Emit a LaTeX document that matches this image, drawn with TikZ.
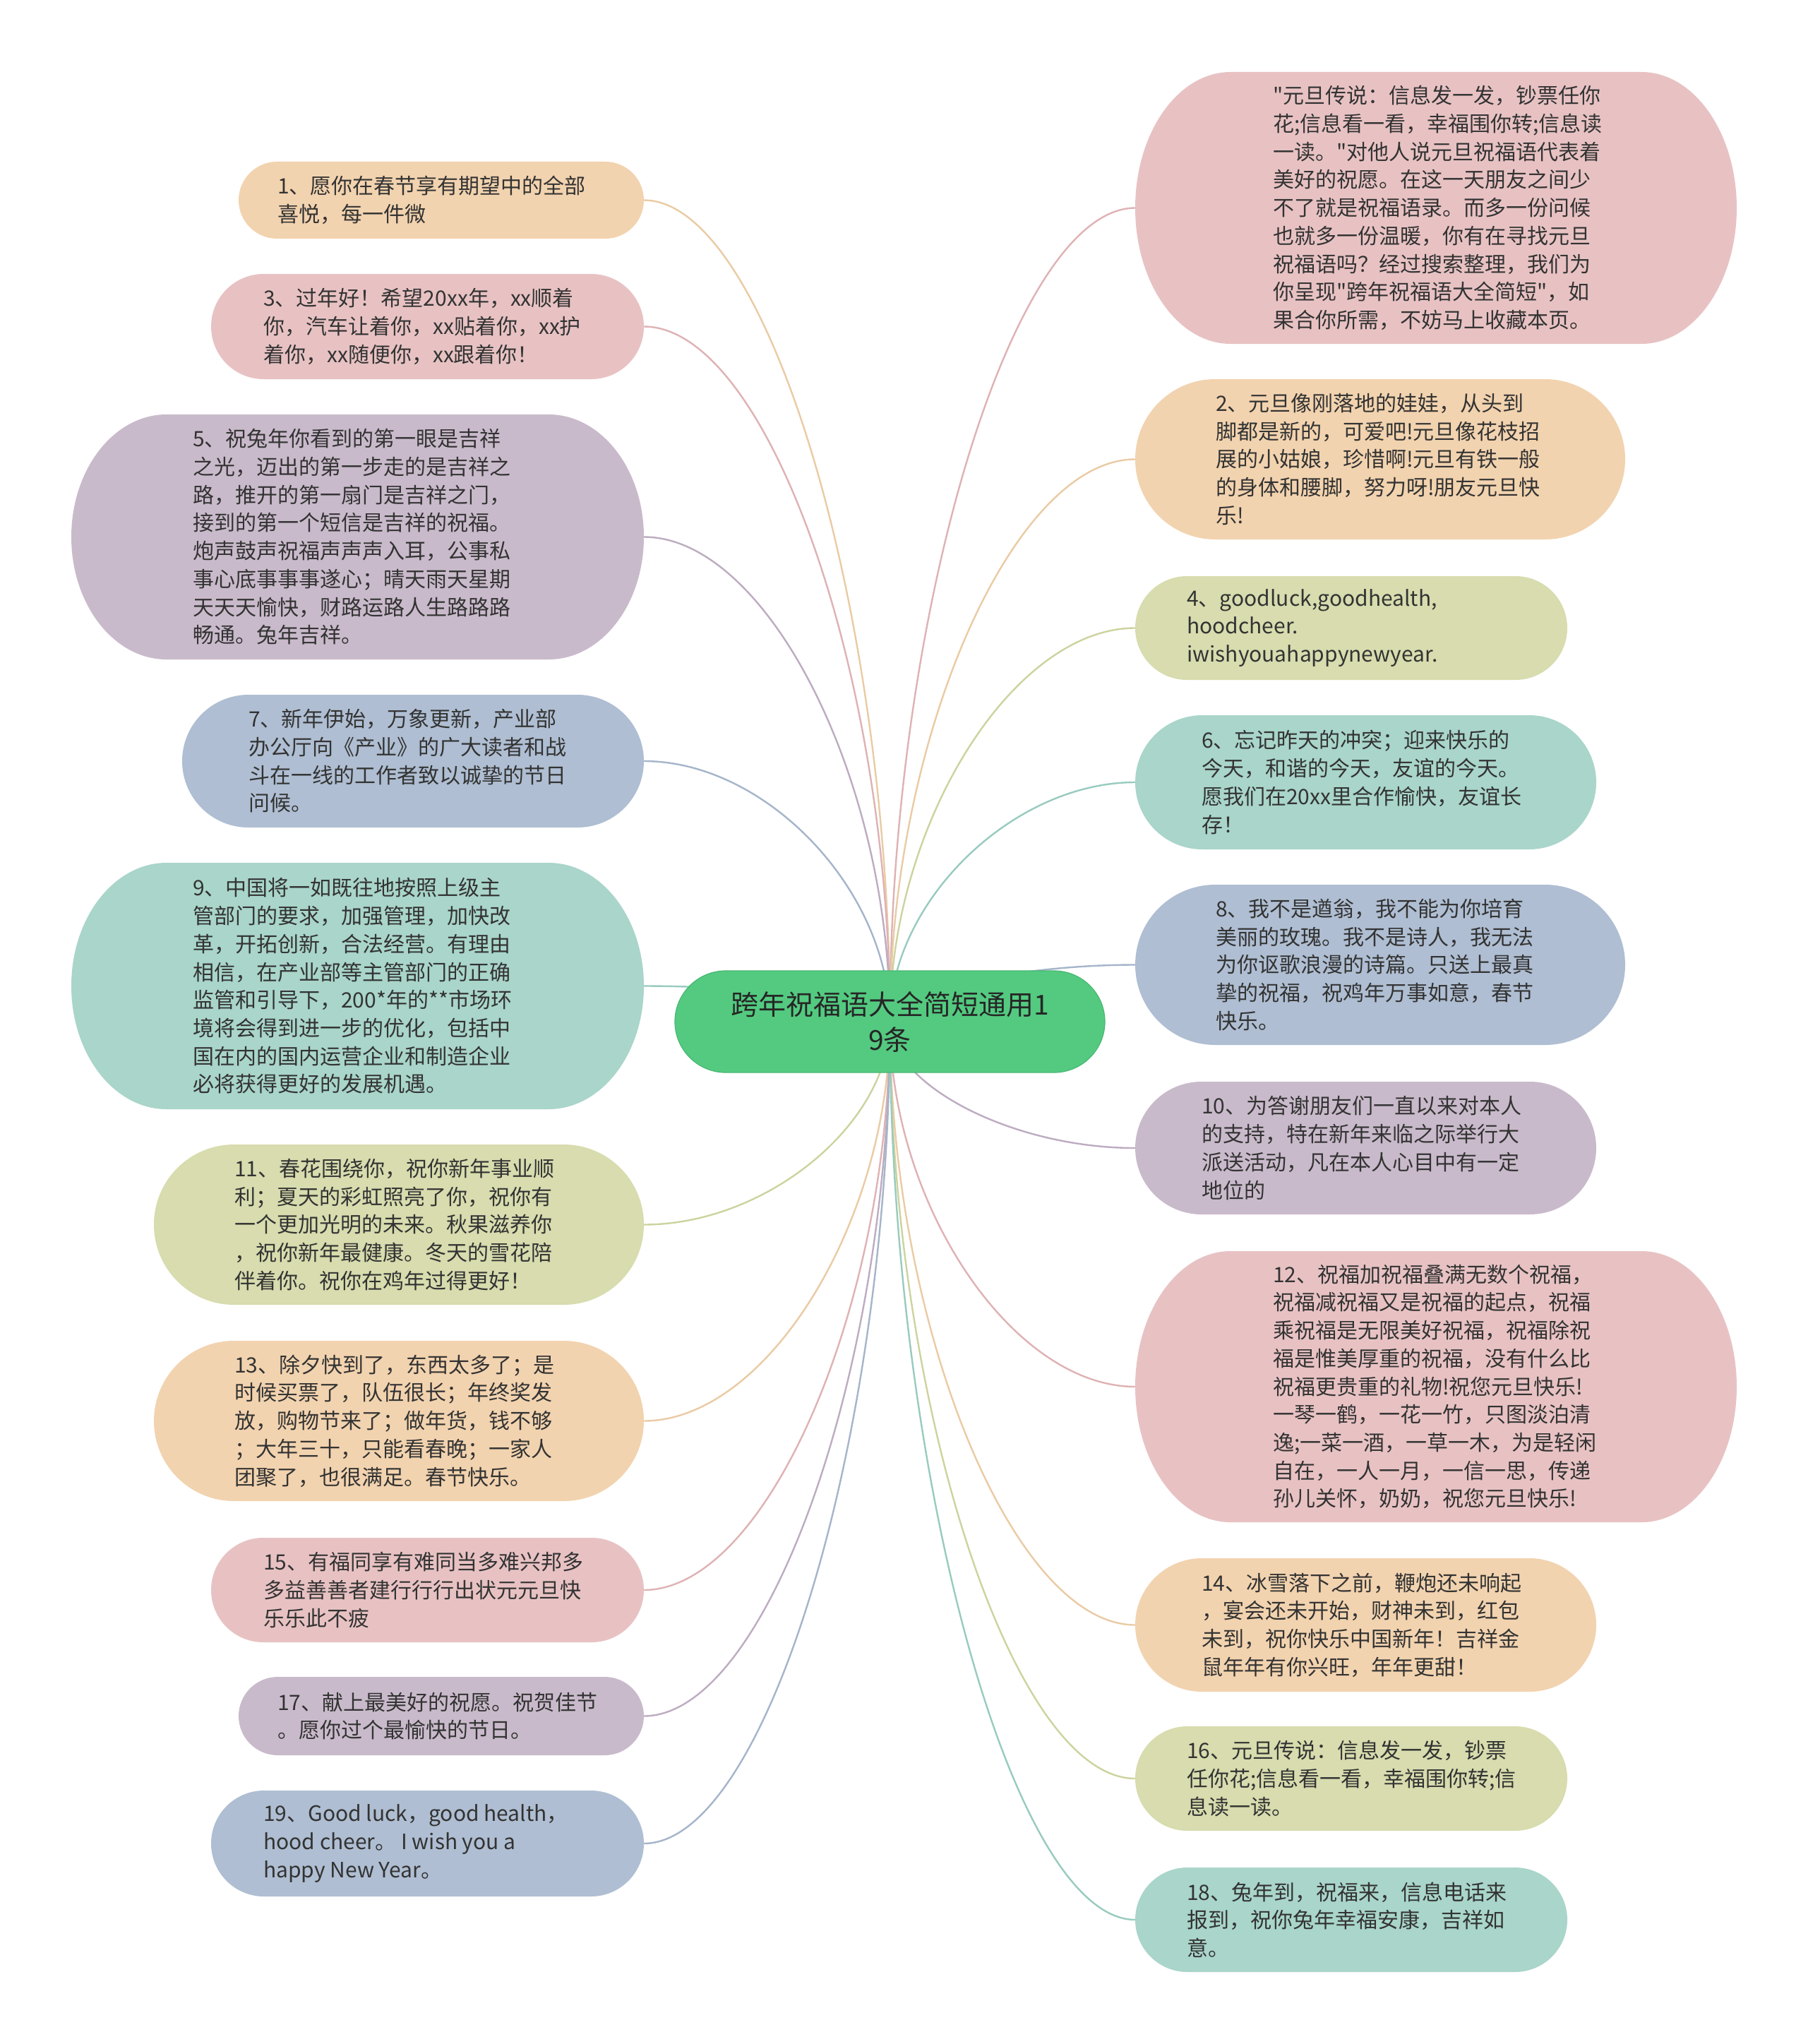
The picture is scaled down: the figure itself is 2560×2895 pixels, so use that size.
\documentclass[tikz,border=0pt]{standalone}
\usepackage{fontspec}
\newfontfamily\cjk{Noto Sans CJK SC}
\usetikzlibrary{calc}
\definecolor{tx}{HTML}{333333}
\definecolor{pcf}{HTML}{F2D3AF}\definecolor{pcl}{HTML}{EACBA4}
\definecolor{pkf}{HTML}{E8C2C3}\definecolor{pkl}{HTML}{DFB2B4}
\definecolor{puf}{HTML}{C9BACB}\definecolor{pul}{HTML}{BDACC1}
\definecolor{blf}{HTML}{AFBED2}\definecolor{bll}{HTML}{A5B5CA}
\definecolor{tef}{HTML}{A9D5CA}\definecolor{tel}{HTML}{98CBBF}
\definecolor{olf}{HTML}{D8DCAE}\definecolor{oll}{HTML}{CDD39E}
\definecolor{grf}{HTML}{53CA80}\definecolor{grd}{HTML}{47B873}
\pgfdeclarelayer{bg}\pgfsetlayers{bg,main}
\newcommand\mybubble[8]{%
 \pgfmathsetmacro\bbhh{(#5-#3)/2}%
 \pgfmathsetmacro\bbrx{min(\bbhh,135)}%
 \pgfmathsetmacro\bbww{#4-#2}%
 \pgfmathsetmacro\bbht{#5-#3}%
 \fill[#6] (#2+\bbrx,#3) -- (#4-\bbrx,#3)
   arc[start angle=-90,end angle=0,x radius=\bbrx,y radius=\bbhh] -- (#4,#5-\bbhh)
   arc[start angle=0,end angle=90,x radius=\bbrx,y radius=\bbhh] -- (#2+\bbrx,#5)
   arc[start angle=90,end angle=180,x radius=\bbrx,y radius=\bbhh] -- (#2,#3+\bbhh)
   arc[start angle=180,end angle=270,x radius=\bbrx,y radius=\bbhh] -- cycle;
 \node[inner sep=0pt,outer sep=0pt,minimum width=\bbww pt,minimum height=\bbht pt] (#1) at ({(#2+#4)/2},{(#3+#5)/2}) {};
 \node[txt,anchor=west] (#1t) at (#7,{(#3+#5)/2}) {#8};
}
\begin{document}
\begin{tikzpicture}[x=1pt,y=-1pt,
  txt/.style={font=\cjk\fontsize{30}{39.7}\selectfont, text=tx, align=left, inner sep=0pt},
  conn/.style={line width=2.4pt}]
\useasboundingbox (0,0) rectangle (2560,2895);
% left
\mybubble{n1}{338}{229}{912}{338}{pcf}{393}{1、愿你在春节享有期望中的全部\\喜悦，每一件微}
\mybubble{n3}{299}{388}{912}{537}{pkf}{373}{3、过年好！希望20xx年，xx顺着\\你，汽车让着你，xx贴着你，xx护\\着你，xx随便你，xx跟着你！}
\mybubble{n5}{101}{587}{912}{934}{puf}{273}{5、祝兔年你看到的第一眼是吉祥\\之光，迈出的第一步走的是吉祥之\\路，推开的第一扇门是吉祥之门，\\接到的第一个短信是吉祥的祝福。\\炮声鼓声祝福声声声入耳，公事私\\事心底事事事遂心；晴天雨天星期\\天天天愉快，财路运路人生路路路\\畅通。兔年吉祥。}
\mybubble{n7}{258}{984}{912}{1172}{blf}{352}{7、新年伊始，万象更新，产业部\\办公厅向《产业》的广大读者和战\\斗在一线的工作者致以诚挚的节日\\问候。}
\mybubble{n9}{101}{1222}{912}{1571}{tef}{273}{9、中国将一如既往地按照上级主\\管部门的要求，加强管理，加快改\\革，开拓创新，合法经营。有理由\\相信，在产业部等主管部门的正确\\监管和引导下，200*年的**市场环\\境将会得到进一步的优化，包括中\\国在内的国内运营企业和制造企业\\必将获得更好的发展机遇。}
\mybubble{n11}{218}{1621}{912}{1848}{olf}{332}{11、春花围绕你，祝你新年事业顺\\利；夏天的彩虹照亮了你，祝你有\\一个更加光明的未来。秋果滋养你\\，祝你新年最健康。冬天的雪花陪\\伴着你。祝你在鸡年过得更好！}
\mybubble{n13}{218}{1899}{912}{2126}{pcf}{332}{13、除夕快到了，东西太多了；是\\时候买票了，队伍很长；年终奖发\\放，购物节来了；做年货，钱不够\\；大年三十，只能看春晚；一家人\\团聚了，也很满足。春节快乐。}
\mybubble{n15}{299}{2178}{912}{2326}{pkf}{373}{15、有福同享有难同当多难兴邦多\\多益善善者建行行行出状元元旦快\\乐乐此不疲}
\mybubble{n17}{338}{2375}{912}{2486}{puf}{393}{17、献上最美好的祝愿。祝贺佳节\\。愿你过个最愉快的节日。}
\mybubble{n19}{299}{2536}{912}{2686}{blf}{373}{19、Good luck，good health，\\hood cheer。 I wish you a\\happy New Year。}
% right
\mybubble{n0}{1608}{102}{2460}{487}{pkf}{1803}{"元旦传说：信息发一发，钞票任你\\花;信息看一看，幸福围你转;信息读\\一读。"对他人说元旦祝福语代表着\\美好的祝愿。在这一天朋友之间少\\不了就是祝福语录。而多一份问候\\也就多一份温暖，你有在寻找元旦\\祝福语吗？经过搜索整理，我们为\\你呈现"跨年祝福语大全简短"，如\\果合你所需，不妨马上收藏本页。}
\mybubble{n2}{1608}{537}{2302}{764}{pcf}{1722}{2、元旦像刚落地的娃娃，从头到\\脚都是新的，可爱吧!元旦像花枝招\\展的小姑娘，珍惜啊!元旦有铁一般\\的身体和腰脚，努力呀!朋友元旦快\\乐!}
\mybubble{n4}{1608}{816}{2220}{963}{olf}{1681}{4、goodluck,goodhealth,\\hoodcheer.\\iwishyouahappynewyear.}
\mybubble{n6}{1608}{1013}{2261}{1203}{tef}{1702}{6、忘记昨天的冲突；迎来快乐的\\今天，和谐的今天，友谊的今天。\\愿我们在20xx里合作愉快，友谊长\\存！}
\mybubble{n8}{1608}{1253}{2302}{1480}{blf}{1722}{8、我不是遒翁，我不能为你培育\\美丽的玫瑰。我不是诗人，我无法\\为你讴歌浪漫的诗篇。只送上最真\\挚的祝福，祝鸡年万事如意，春节\\快乐。}
\mybubble{n10}{1608}{1532}{2261}{1720}{puf}{1702}{10、为答谢朋友们一直以来对本人\\的支持，特在新年来临之际举行大\\派送活动，凡在本人心目中有一定\\地位的}
\mybubble{n12}{1608}{1772}{2460}{2156}{pkf}{1803}{12、祝福加祝福叠满无数个祝福，\\祝福减祝福又是祝福的起点，祝福\\乘祝福是无限美好祝福，祝福除祝\\福是惟美厚重的祝福，没有什么比\\祝福更贵重的礼物!祝您元旦快乐!\\一琴一鹤，一花一竹，只图淡泊清\\逸;一菜一酒，一草一木，为是轻闲\\自在，一人一月，一信一思，传递\\孙儿关怀，奶奶，祝您元旦快乐!}
\mybubble{n14}{1608}{2207}{2261}{2396}{pcf}{1702}{14、冰雪落下之前，鞭炮还未响起\\，宴会还未开始，财神未到，红包\\未到，祝你快乐中国新年！吉祥金\\鼠年年有你兴旺，年年更甜！}
\mybubble{n16}{1608}{2445}{2220}{2593}{olf}{1681}{16、元旦传说：信息发一发，钞票\\任你花;信息看一看，幸福围你转;信\\息读一读。}
\mybubble{n18}{1608}{2645}{2220}{2793}{tef}{1681}{18、兔年到，祝福来，信息电话来\\报到，祝你兔年幸福安康，吉祥如\\意。}
% center
\node[draw=grd, line width=1.2pt, fill=grf, rounded corners=72pt, minimum width=609pt, minimum height=144pt,
  align=center, text=black!85, font=\cjk\fontsize{39}{50}\selectfont, inner sep=0pt] (c) at (1260.5,1447)
  {跨年祝福语大全简短通用1\\9条};
\begin{pgfonlayer}{bg}
\fill[white] (0,0) rectangle (2560,2895);
\foreach \n/\cl in {n1/pcl,n3/pkl,n5/pul,n7/bll,n9/tel,n11/oll,n13/pcl,n15/pkl,n17/pul,n19/bll}
  {\draw[conn,\cl] (c.center) .. controls ($(c.center)!0.5!(c.center |- \n.east)$) and ($(\n.east)!0.5!(c.center |- \n.east)$) .. (\n.east);}
\foreach \n/\cl in {n0/pkl,n2/pcl,n4/oll,n6/tel,n8/bll,n10/pul,n12/pkl,n14/pcl,n16/oll,n18/tel}
  {\draw[conn,\cl] (c.center) .. controls ($(c.center)!0.5!(c.center |- \n.west)$) and ($(\n.west)!0.5!(c.center |- \n.west)$) .. (\n.west);}
\end{pgfonlayer}
\end{tikzpicture}
\end{document}
